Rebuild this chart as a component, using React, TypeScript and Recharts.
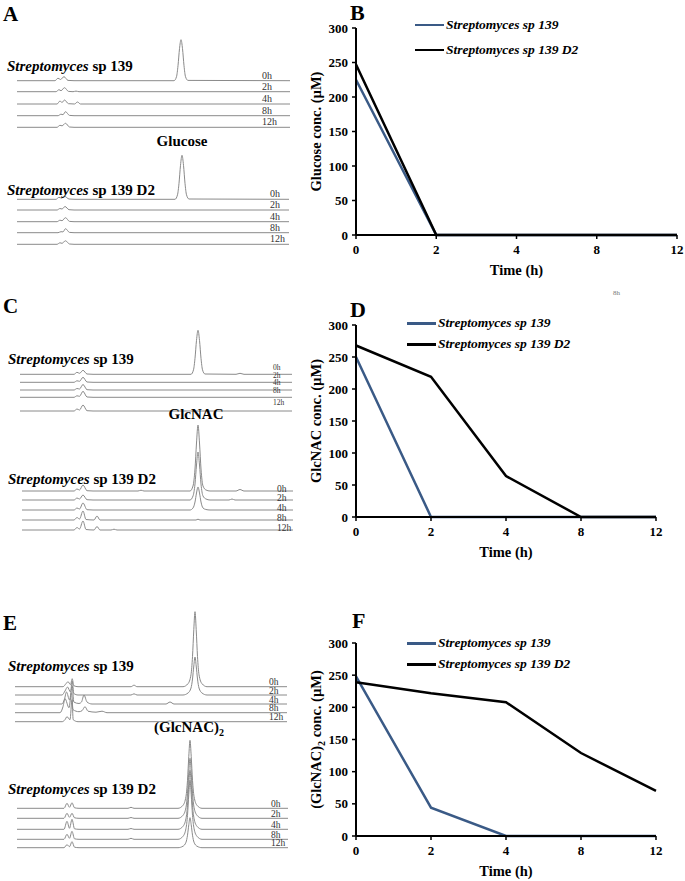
import { LineChart, Line, XAxis, YAxis, Legend, Label } from "recharts";

const SERIF = '"Liberation Serif", "Times New Roman", serif';
const BLUE = "#3a5a86";
const TRACE = "#8a8a8a";

// ---- kinetics (right column) ----
const TIMES = ["0", "2", "4", "8", "12"];
const Y_TICKS = [0, 50, 100, 150, 200, 250, 300];
const STRAINS = ["Streptomyces sp 139", "Streptomyces sp 139 D2"];

const GLUCOSE_139 = [225, 0, 0, 0, 0];
const GLUCOSE_D2 = [247, 0, 0, 0, 0];
const GLCNAC_139 = [250, 0, 0, 0, 0];
const GLCNAC_D2 = [268, 219, 64, 0, 0];
const DIMER_139 = [248, 44, 0, 0, 0];
const DIMER_D2 = [239, 222, 208, 129, 70];

// ---- HPLC traces (left column), [retention, signal] ----
type Pt = [number, number];
const HOURS = ["0h", "2h", "4h", "8h", "12h"];

const GLC_TRACES_139: Pt[][] = [
  [[1.7,0],[5.5,0],[5.8,2.5],[6.05,1.2],[6.4,4],[6.8,0.3],[7.4,0],[17.4,0],[17.65,4],[17.8,15],[17.95,32],[18.1,41],[18.25,32],[18.4,15],[18.55,4],[18.8,0.3],[29,0]],
  [[1.7,0],[5.6,0],[5.9,2],[6.1,1],[6.45,4],[6.85,0.3],[7.3,0],[7.6,0.6],[7.9,0],[29,0]],
  [[1.7,0],[5.7,0],[6.0,3],[6.2,1.5],[6.45,4],[6.85,0.3],[7.45,0],[7.75,2],[8.05,0],[29,0]],
  [[1.7,0],[5.8,0],[6.1,1.5],[6.3,1],[6.55,4],[6.95,0.3],[7.4,0],[29,0]],
  [[1.7,0],[5.7,0],[6.0,2],[6.2,1.5],[6.55,4],[6.95,0.3],[7.4,0],[29,0]],
];
const GLC_TRACES_D2: Pt[][] = [
  [[1.7,0],[5.6,0],[5.9,2],[6.15,1.2],[6.45,3],[6.9,0.3],[7.5,0],[17.5,0],[17.75,4.5],[17.9,16],[18.05,34],[18.2,44],[18.35,34],[18.5,16],[18.65,4.5],[18.9,0.3],[28.9,0]],
  [[1.7,0],[5.7,0],[6.0,1.5],[6.2,1],[6.5,3.5],[6.9,0.3],[7.4,0],[28.9,0]],
  [[1.7,0],[5.7,0],[6.0,1.5],[6.2,1],[6.55,4],[6.95,0.3],[7.4,0],[28.9,0]],
  [[1.7,0],[5.8,0],[6.1,1],[6.3,0.8],[6.55,4],[6.95,0.3],[7.4,0],[28.9,0]],
  [[1.7,0],[5.7,0],[6.0,1.5],[6.2,1],[6.55,3.5],[6.95,0.3],[7.4,0],[28.9,0]],
];
const NAC_TRACES_139: Pt[][] = [
  [[2,0],[7.4,0],[7.7,2],[7.95,1],[8.3,4],[8.7,0.3],[9.3,0],[19.1,0],[19.35,4.5],[19.5,16],[19.65,34],[19.8,44],[19.95,34],[20.1,16],[20.25,4.5],[20.5,0.3],[23.6,0],[24.0,1],[24.4,0],[29.2,0]],
  [[2,0],[7.4,0],[7.7,1.5],[7.95,1],[8.3,5],[8.7,0.3],[9.3,0],[29.2,0]],
  [[2,0],[7.4,0],[7.7,1.5],[7.95,1],[8.3,5.5],[8.7,0.3],[9.3,0],[29.2,0]],
  [[2,0],[7.4,0],[7.7,1.5],[7.95,1],[8.3,6],[8.7,0.3],[9.3,0],[29.2,0]],
  [[2,0],[7.4,0],[7.7,2],[7.95,1],[8.3,6],[8.7,0.3],[9.3,0],[29.2,0]],
];
const NAC_TRACES_D2: Pt[][] = [
  [[2.2,0],[7.4,0],[7.7,2],[7.95,1],[8.3,6],[8.7,0.3],[9.3,0],[13.8,0],[14.1,0.8],[14.4,0],[19.0,0],[19.3,5],[19.5,22],[19.65,48],[19.8,66],[19.95,48],[20.1,22],[20.3,5],[20.6,1],[21.0,0],[23.6,0],[24.0,1.5],[24.4,0],[29.3,0]],
  [[2.2,0],[7.4,0],[7.7,2],[7.95,1],[8.3,5],[8.7,0.3],[9.3,0],[19.0,0],[19.3,4],[19.5,16],[19.65,35],[19.8,48],[19.95,35],[20.1,16],[20.3,4],[20.6,1],[21.0,0],[22.9,0],[23.2,1],[23.5,0],[29.3,0]],
  [[2.2,0],[7.4,0],[7.7,2],[7.95,1],[8.3,7],[8.7,0.3],[9.3,0],[19.0,0],[19.3,2],[19.5,8],[19.65,17],[19.8,23],[19.95,17],[20.1,8],[20.3,2],[20.6,0.5],[21.0,0],[29.3,0]],
  [[2.2,0],[7.4,0],[7.7,2.5],[7.95,1],[8.3,9],[8.6,0.5],[9.4,0],[9.7,4],[10.0,0],[19.6,0],[19.8,0.8],[20.0,0],[29.3,0]],
  [[2.2,0],[7.4,0],[7.7,2.5],[7.95,1],[8.3,9],[8.6,0.5],[9.4,0],[9.7,3.5],[10.0,0],[11.1,0],[11.4,0.8],[11.7,0],[29.3,0]],
];
const DIM_TRACES_139: Pt[][] = [
  [[1.5,0],[6.3,0],[6.6,3],[6.8,5],[7.05,2],[7.22,8],[7.38,1],[7.8,0],[13.1,0],[13.4,1.5],[13.7,0],[18.3,0],[18.8,3],[19.1,12],[19.25,30],[19.38,57],[19.5,75],[19.62,57],[19.75,30],[19.9,12],[20.2,3],[20.7,0],[28.7,0]],
  [[1.5,0],[6.2,0],[6.5,4],[6.75,8],[7.05,3],[7.22,14],[7.38,1.5],[7.8,0],[13.1,0],[13.4,1.2],[13.7,0],[18.3,0],[18.8,2],[19.1,7],[19.25,16],[19.38,29],[19.5,38],[19.62,29],[19.75,16],[19.9,7],[20.2,2],[20.7,0],[28.7,0]],
  [[1.5,0],[6.2,0],[6.45,5],[6.65,12],[6.95,4],[7.22,18],[7.38,2],[7.9,0.5],[8.15,2],[8.4,9],[8.7,2],[9.2,0],[16.6,0],[17.0,2],[17.4,0],[28.7,0]],
  [[1.5,0],[6.0,0],[6.3,6],[6.5,14],[6.9,5],[7.15,20],[7.3,3],[7.9,1],[8.2,2],[8.5,6],[8.8,1.5],[9.6,0.5],[10.2,1.5],[10.7,0],[28.7,0]],
  [[1.5,0],[6.2,0],[6.5,2],[6.7,5],[7.0,2],[7.2,22],[7.32,2],[7.8,0],[16.6,0],[17.0,0.8],[17.4,0],[28.7,0]],
];
const DIM_TRACES_D2: Pt[][] = [
  [[1.7,0],[6.4,0],[6.7,5],[6.95,1],[7.2,5.5],[7.45,0.5],[7.9,0],[12.8,0],[13.1,1],[13.4,0],[17.8,0],[18.3,3],[18.6,12],[18.75,28],[18.88,52],[19.0,68],[19.12,52],[19.25,28],[19.4,12],[19.7,3],[20.2,0],[28.8,0]],
  [[1.7,0],[6.4,0],[6.7,5],[6.95,1],[7.2,5],[7.45,0.5],[7.9,0],[12.8,0],[13.1,0.8],[13.4,0],[17.8,0],[18.3,3],[18.6,11],[18.75,25],[18.88,46],[19.0,60],[19.12,46],[19.25,25],[19.4,11],[19.7,3],[20.2,0],[28.8,0]],
  [[1.7,0],[6.4,0],[6.7,8],[6.95,1],[7.2,10],[7.45,0.5],[7.9,0],[12.8,0],[13.1,0.8],[13.4,0],[17.8,0],[18.3,3],[18.6,11],[18.75,24],[18.88,45],[19.0,59],[19.12,45],[19.25,24],[19.4,11],[19.7,3],[20.2,0],[28.8,0]],
  [[1.7,0],[6.4,0],[6.7,5],[6.95,1],[7.2,8],[7.45,0.5],[7.9,0],[12.8,0],[13.1,1],[13.4,0],[17.8,0],[18.3,3],[18.6,11],[18.75,24],[18.88,45],[19.0,59],[19.12,45],[19.25,24],[19.4,11],[19.7,3],[20.2,0],[28.8,0]],
  [[1.7,0],[6.4,0],[6.7,3],[6.95,1],[7.2,6],[7.45,0.5],[7.9,0],[17.8,0],[18.3,1.5],[18.6,5.5],[18.75,12.5],[18.88,23],[19.0,30],[19.12,23],[19.25,12.5],[19.4,5.5],[19.7,1.5],[20.2,0],[28.8,0]],
];

// layout of the stacked chromatograms (page px)
const CHROMS = [
  { traces: GLC_TRACES_139, base: [80.7, 91.7, 104, 115.7, 127.3], top: 30, h: 110, lx: 262, ly: [78.7, 89.7, 102, 113.7, 125.3], lfs: 10, d2: false, nx: 7, ny: 71 },
  { traces: GLC_TRACES_D2, base: [199.3, 210, 221.7, 232.7, 244.3], top: 145, h: 110, lx: 270, ly: [197.3, 208, 219.7, 230.7, 242.3], lfs: 10, d2: true, nx: 7, ny: 195 },
  { traces: NAC_TRACES_139, base: [374.3, 382.3, 390, 397.3, 411], top: 320, h: 100, lx: 273, ly: [369.5, 377.5, 385.3, 393, 405], lfs: 7.5, d2: false, nx: 8, ny: 363.5 },
  { traces: NAC_TRACES_D2, base: [491, 500, 510, 520, 530], top: 415, h: 125, lx: 277, ly: [491.5, 500.5, 510.5, 520.5, 530.5], lfs: 9.5, d2: true, nx: 8, ny: 483.5 },
  { traces: DIM_TRACES_139, base: [686.7, 695, 704, 712.7, 721.7], top: 600, h: 130, lx: 269, ly: [685.2, 693.5, 702.5, 711.2, 720.2], lfs: 9.5, d2: false, nx: 8, ny: 670.7 },
  { traces: DIM_TRACES_D2, base: [808.3, 818.3, 829.3, 839.3, 847.7], top: 730, h: 125, lx: 271, ly: [806.8, 816.8, 827.8, 837.8, 846.2], lfs: 9.5, d2: true, nx: 8, ny: 794 },
];

const AXIS_LINE = { stroke: "#000", strokeWidth: 2 };
const TICK_LINE = { stroke: "#000", strokeWidth: 1.5 };
const TICK = { fill: "#000", fontSize: 13, fontWeight: 700, fontFamily: SERIF };
const TITLE_STYLE = { fill: "#000", fontSize: 14.5, fontWeight: 700, fontFamily: SERIF };

function Chromatogram({ traces, base, top, h }: any) {
  return (
    <div style={{ position: "absolute", left: 0, top, width: 300, height: h }}>
      <LineChart width={300} height={h} margin={{ top: 0, right: 0, bottom: 0, left: 0 }}>
        <XAxis type="number" dataKey="t" domain={[0, 30]} hide allowDataOverflow />
        <YAxis type="number" domain={[0, h]} hide allowDataOverflow />
        {traces.map((pts: Pt[], i: number) => (
          <Line
            key={i}
            data={pts.map(([t, v]) => ({ t, v: v + top + h - base[i] }))}
            dataKey="v"
            type="monotone"
            stroke={TRACE}
            strokeWidth={1}
            dot={false}
            activeDot={false}
            isAnimationActive={false}
          />
        ))}
      </LineChart>
    </div>
  );
}

function YTitle(props: any) {
  const vb = props.viewBox || { x: 0, y: 0, height: 0 };
  const x = vb.x + 5;
  const y = vb.y + vb.height / 2;
  return (
    <text x={x} y={y} transform={`rotate(-90 ${x} ${y})`} textAnchor="middle" style={TITLE_STYLE}>
      {props.caption}
    </text>
  );
}

function Kinetics({ top, height, margin, sp139, d2, caption, legend }: any) {
  const data = TIMES.map((t, i) => ({ t, sp139: sp139[i], d2: d2[i] }));
  return (
    <div style={{ position: "absolute", left: 290, top, width: 395, height }}>
      <LineChart width={395} height={height} data={data} margin={margin}>
        <XAxis
          dataKey="t"
          interval={0}
          height={30}
          tickSize={4}
          tickMargin={6}
          axisLine={AXIS_LINE}
          tickLine={TICK_LINE}
          tick={TICK}
        >
          <Label value="Time (h)" position="bottom" offset={0} style={TITLE_STYLE} />
        </XAxis>
        <YAxis
          type="number"
          domain={[0, 300]}
          ticks={Y_TICKS}
          interval={0}
          width={40}
          tickSize={4}
          tickMargin={4}
          axisLine={AXIS_LINE}
          tickLine={TICK_LINE}
          tick={TICK}
        >
          <Label content={<YTitle caption={caption} />} />
        </YAxis>
        <Legend
          layout="vertical"
          align="center"
          verticalAlign="middle"
          wrapperStyle={{ left: legend.left, top: legend.top, width: "auto" }}
          content={({ payload }: any) => (
            <div style={{ fontFamily: SERIF, fontStyle: "italic", fontWeight: 700, fontSize: 13.5, color: "#000" }}>
              {(payload || []).map((p: any) => (
                <div key={p.value} style={{ display: "flex", alignItems: "center", height: legend.row, whiteSpace: "nowrap" }}>
                  <div style={{ width: 29, height: 2.5, background: p.color, marginRight: 2 }} />
                  <span>{p.value}</span>
                </div>
              ))}
            </div>
          )}
        />
        <Line type="linear" dataKey="sp139" name={STRAINS[0]} stroke={BLUE} strokeWidth={2.5} dot={false} activeDot={false} isAnimationActive={false} />
        <Line type="linear" dataKey="d2" name={STRAINS[1]} stroke="#000" strokeWidth={2.5} dot={false} activeDot={false} isAnimationActive={false} />
      </LineChart>
    </div>
  );
}

export default function App() {
  const bold = { fontFamily: SERIF, fontWeight: 700, fill: "#000" };
  return (
    <div style={{ position: "absolute", left: 0, top: 0, width: 685, height: 881, background: "#fff", overflow: "hidden" }}>
      {CHROMS.map((c, i) => (
        <Chromatogram key={i} {...c} />
      ))}

      <Kinetics
        top={0}
        height={290}
        margin={{ top: 28, right: 8, bottom: 25, left: 26 }}
        sp139={GLUCOSE_139}
        d2={GLUCOSE_D2}
        caption="Glucose conc. (µM)"
        legend={{ left: 125, top: 12.5, row: 25 }}
      />
      <Kinetics
        top={290}
        height={290}
        margin={{ top: 35, right: 29, bottom: 33, left: 26 }}
        sp139={GLCNAC_139}
        d2={GLCNAC_D2}
        caption="GlcNAC conc. (µM)"
        legend={{ left: 117, top: 22.8, row: 21 }}
      />
      <Kinetics
        top={590}
        height={291}
        margin={{ top: 53, right: 29, bottom: 15, left: 26 }}
        sp139={DIMER_139}
        d2={DIMER_D2}
        caption={
          <>
            (GlcNAC)<tspan fontSize={10} dy={4}>2</tspan>
            <tspan dy={-4}> conc. (µM)</tspan>
          </>
        }
        legend={{ left: 117, top: 42.8, row: 21 }}
      />

      <svg width={685} height={881} style={{ position: "absolute", left: 0, top: 0, pointerEvents: "none" }}>
        <g style={bold} fontSize={21}>
          <text x={3} y={21}>A</text>
          <text x={3} y={313}>C</text>
          <text x={3} y={630}>E</text>
        </g>
        <g style={bold} fontSize={22}>
          <text x={350} y={20}>B</text>
          <text x={350} y={317}>D</text>
          <text x={352} y={628}>F</text>
        </g>

        {CHROMS.map((c, i) => (
          <text key={"n" + i} x={c.nx} y={c.ny} style={bold} fontSize={15}>
            <tspan fontStyle="italic">Streptomyces</tspan>
            {c.d2 ? " sp 139 D2" : " sp 139"}
          </text>
        ))}

        <g style={bold} fontSize={15} textAnchor="middle">
          <text x={182} y={146}>Glucose</text>
          <text x={196} y={419}>GlcNAC</text>
          <text x={189} y={731.5}>
            (GlcNAC)<tspan fontSize={10} dy={4}>2</tspan>
          </text>
        </g>

        {CHROMS.map((c, i) => (
          <g key={"h" + i} fontFamily={SERIF} fontSize={c.lfs} fill="#333">
            {HOURS.map((hr, k) => (
              <text key={hr} x={c.lx} y={c.ly[k]}>{hr}</text>
            ))}
          </g>
        ))}

        <text x={613} y={295} fontFamily={SERIF} fontSize={7} fill="#777">8h</text>
      </svg>
    </div>
  );
}
